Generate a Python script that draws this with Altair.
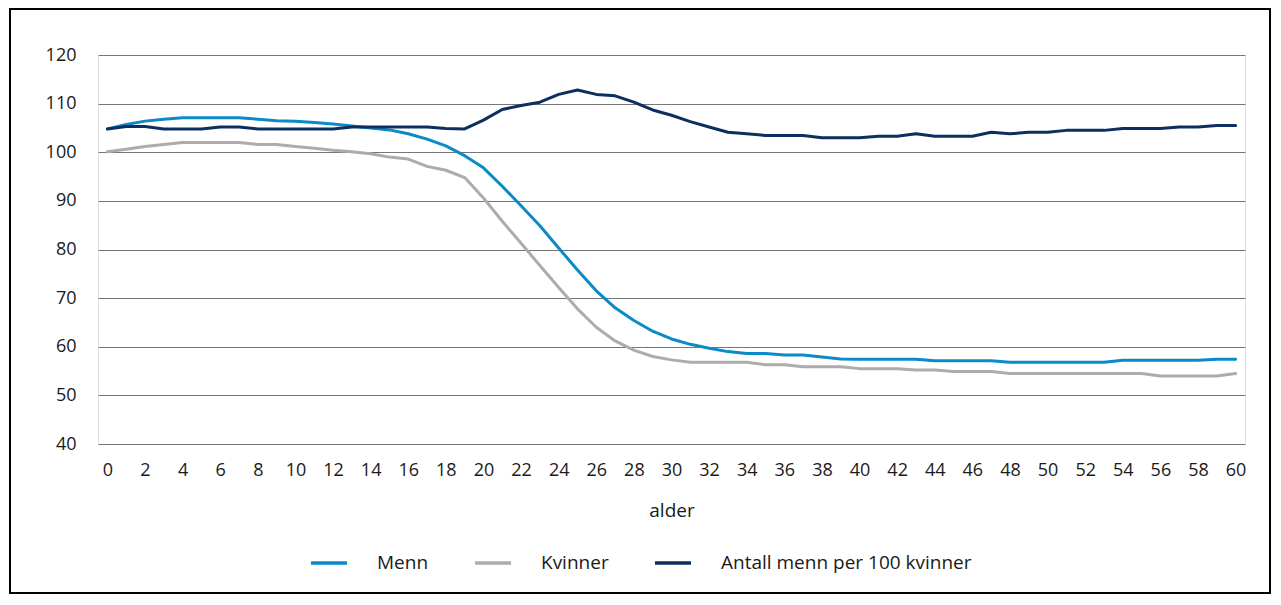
import altair as alt
import pandas as pd

ages = list(range(0, 61))
series_names = ["Menn", "Kvinner", "Antall menn per 100 kvinner"]
series_colors = ["#0a8ac6", "#b0aba8", "#0c2f5f"]

menn = [104.8, 105.7, 106.4, 106.8, 107.1, 107.1, 107.1, 107.1, 106.8, 106.5,
        106.4, 106.1, 105.8, 105.4, 105.0, 104.6, 103.8, 102.7, 101.3, 99.3,
        96.8, 93.0, 89.0, 84.9, 80.3, 75.8, 71.5, 68.0, 65.4, 63.2,
        61.6, 60.5, 59.7, 59.0, 58.6, 58.6, 58.3, 58.3, 57.9, 57.5,
        57.45, 57.45, 57.45, 57.45, 57.1, 57.1, 57.1, 57.1, 56.8, 56.8,
        56.8, 56.8, 56.8, 56.8, 57.2, 57.2, 57.2, 57.2, 57.2, 57.45, 57.45]

kvinner = [100.1, 100.6, 101.2, 101.6, 102.0, 102.0, 102.0, 102.0, 101.6, 101.6,
           101.2, 100.8, 100.4, 100.1, 99.7, 99.0, 98.6, 97.1, 96.3, 94.8,
           90.6, 85.8, 81.3, 76.7, 72.2, 67.8, 64.0, 61.2, 59.3, 58.0,
           57.3, 56.8, 56.8, 56.8, 56.8, 56.3, 56.3, 55.9, 55.9, 55.9,
           55.5, 55.5, 55.5, 55.2, 55.2, 54.9, 54.9, 54.9, 54.5, 54.5,
           54.5, 54.5, 54.5, 54.5, 54.5, 54.5, 54.0, 54.0, 54.0, 54.0, 54.5]

antall = [104.8, 105.3, 105.3, 104.8, 104.8, 104.8, 105.2, 105.2, 104.8, 104.8,
          104.8, 104.8, 104.8, 105.2, 105.2, 105.2, 105.2, 105.2, 104.9, 104.8,
          106.6, 108.8, 109.6, 110.3, 111.9, 112.8, 111.9, 111.6, 110.3, 108.7,
          107.6, 106.3, 105.2, 104.1, 103.8, 103.45, 103.45, 103.45, 103.0, 103.0,
          103.0, 103.3, 103.3, 103.8, 103.3, 103.3, 103.3, 104.1, 103.8, 104.1,
          104.1, 104.5, 104.5, 104.5, 104.9, 104.9, 104.9, 105.2, 105.2, 105.5, 105.5]

x_ticks = list(range(0, 61, 2))
y_ticks = list(range(40, 121, 10))

rows = []
for name, vals in zip(series_names, [menn, kvinner, antall]):
    for a, v in zip(ages, vals):
        rows.append({"alder": a, "verdi": v, "serie": name})
df = pd.DataFrame(rows)

FONT = "Open Sans"
W, H = 1147, 389

lines = alt.Chart(df).mark_line(strokeWidth=3, strokeJoin="round", strokeCap="round").encode(
    x=alt.X("alder:Q",
            scale=alt.Scale(domain=[-0.5, 60.5], nice=False, zero=False),
            axis=alt.Axis(values=x_ticks, title="alder", grid=False, ticks=False, domain=False,
                          labelFontSize=18, labelFont=FONT, labelColor="#1a1a1a",
                          labelPadding=17, titleFontSize=19, titleFont=FONT,
                          titleFontWeight="normal", titleColor="#1a1a1a", titlePadding=22,
                          labelFlush=False)),
    y=alt.Y("verdi:Q",
            scale=alt.Scale(domain=[40, 120], nice=False, zero=False),
            axis=alt.Axis(values=y_ticks, title=None, grid=True, gridColor="#777777",
                          gridWidth=1.2, ticks=False, domain=False,
                          labelFontSize=18, labelFont=FONT, labelColor="#1a1a1a",
                          labelPadding=22)),
    color=alt.Color("serie:N",
                    scale=alt.Scale(domain=series_names, range=series_colors),
                    sort=series_names,
                    legend=alt.Legend(title=None, orient="none", direction="horizontal",
                                      legendX=211, legendY=488,
                                      symbolType="stroke", symbolSize=1300,
                                      symbolStrokeWidth=3.5, labelFontSize=19,
                                      labelFont=FONT, labelColor="#1a1a1a",
                                      labelOffset=28, columnPadding=38, labelLimit=0)),
)

frame = alt.Chart(pd.DataFrame({"f": [0]})).mark_rect(
    fill="transparent", stroke="#000000", strokeWidth=2
).encode(
    x=alt.value(-88), x2=alt.value(1172),
    y=alt.value(-46), y2=alt.value(538),
)

chart = alt.layer(lines, frame).properties(
    width=W, height=H,
    padding={"left": 90, "top": 47, "right": 28, "bottom": 152},
    autosize=alt.AutoSizeParams(type="none"),
).configure_view(stroke=None).configure(background="white")

chart.save("out.html", embed_options={"renderer": "svg", "actions": False})
